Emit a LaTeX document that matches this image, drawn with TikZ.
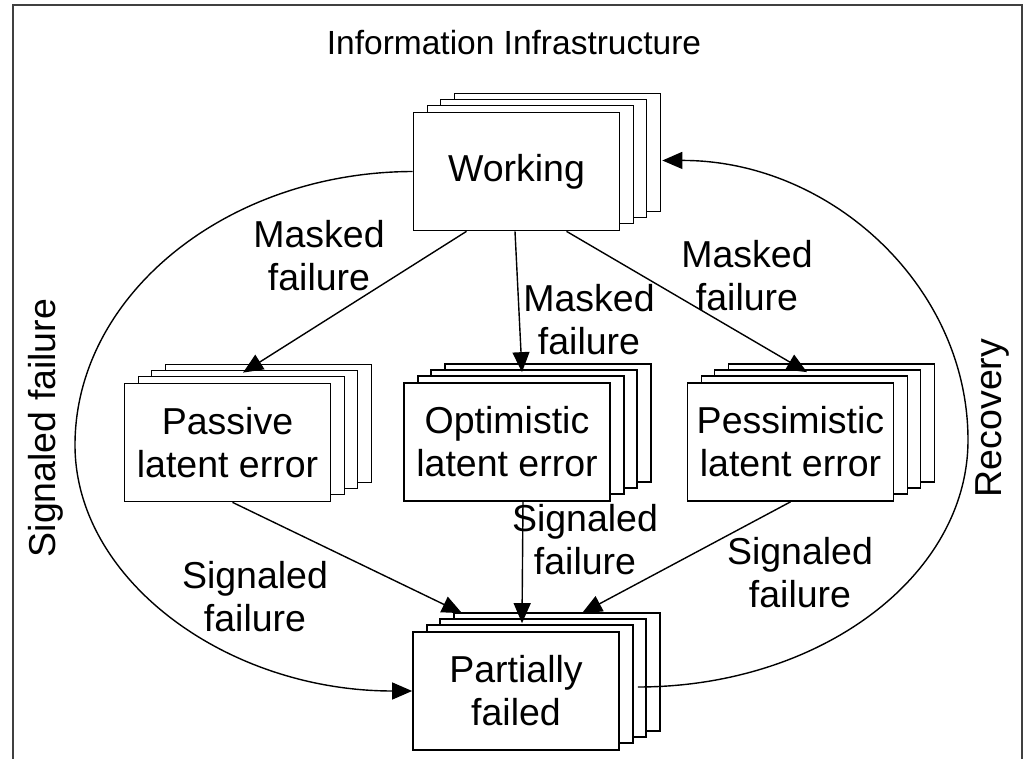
\documentclass[tikz,border=0pt]{standalone}
\usepackage{fontspec}
\setmainfont{Liberation Sans}
\usetikzlibrary{arrows.meta,calc}
\tikzset{
  box/.style={draw=black, fill=white, line width=1.7pt, minimum width=206pt, minimum height=118pt, inner sep=0pt, align=center, font=\fontsize{37.5}{43}\selectfont},
  lbl/.style={align=center, inner sep=0pt, font=\fontsize{37.5}{43}\selectfont},
  conn/.style={line width=1.4pt, -{Triangle[length=20pt,width=17pt]}},
}
\newcommand\mystack[4]{%
  \node[box] (#1c) at ($(#2,#3)+(41,-19)$) {};
  \node[box] (#1b) at ($(#2,#3)+(27,-13)$) {};
  \node[box] (#1a) at ($(#2,#3)+(14,-7)$) {};
  \node[box] (#1) at (#2,#3) {#4};
}
\begin{document}
\begin{tikzpicture}[x=1pt,y=-1pt]
\clip (0,0) rectangle (1029,759);
\fill[white] (0,0) rectangle (1029,759);
\draw[line width=2pt, draw=black!75] (13,5) rectangle (1022,800);

\node[lbl, font=\fontsize{33.5}{40}\selectfont] (title) at (514,43) {Information Infrastructure};

\mystack{work}{516.5}{171.5}{Working}
\mystack{passive}{227.5}{442.5}{Passive\\latent error}
\mystack{optim}{507}{442}{Optimistic\\latent error}
\mystack{pess}{790.5}{442}{Pessimistic\\latent error}
\mystack{partial}{516}{691}{Partially\\failed}

% masked failure arrows
\draw[conn] ($(work.south)+(-50,0)$) -- ($(passive.north)+(15.5,-10)$);
\draw[conn] ($(work.south)+(-1.5,0)$) -- ($(optim.north)+(15,-10)$);
\draw[conn] ($(work.south)+(50,0)$) -- ($(pess.north)+(16.5,-10)$);
% signaled failure arrows
\draw[conn] ($(passive.south)+(5,0)$) -- ($(partial.north)+(-54,-18)$);
\draw[conn] ($(optim.south)+(16,0)$) -- ($(partial.north)+(6,-8)$);
\draw[conn] (pess.south) -- ($(partial.north)+(66,-18)$);

% big curves
\coordinate (lw) at (75,445);
\coordinate (re) at (968,440);
\draw[conn] (work.west) .. controls (227,172) and (75,295) .. (lw)
  .. controls (75,580) and (227,691) .. (partial.west);
\coordinate (recstart) at ($(partial.east)+(18,-4)$);
\coordinate (recend) at ($(work.east)+(42,-11)$);
\draw[conn] (recstart) .. controls (820,687) and (968,576) .. (re)
  .. controls (968,286) and (830,160) .. (recend);

% labels
\node[lbl] (m1) at (319,256) {Masked\\failure};
\node[lbl] (m2) at (589,320) {Masked\\failure};
\node[lbl] (m3) at (747,276) {Masked\\failure};
\node[lbl] (s1) at (255,597) {Signaled\\failure};
\node[lbl] (s2) at (585,540) {Signaled\\failure};
\node[lbl] (s3) at (800,573) {Signaled\\failure};
\node[lbl, rotate=90] (sl) at (46,428) {Signaled failure};
\node[lbl, rotate=90] (rec) at (992,418) {Recovery};
\end{tikzpicture}
\end{document}
